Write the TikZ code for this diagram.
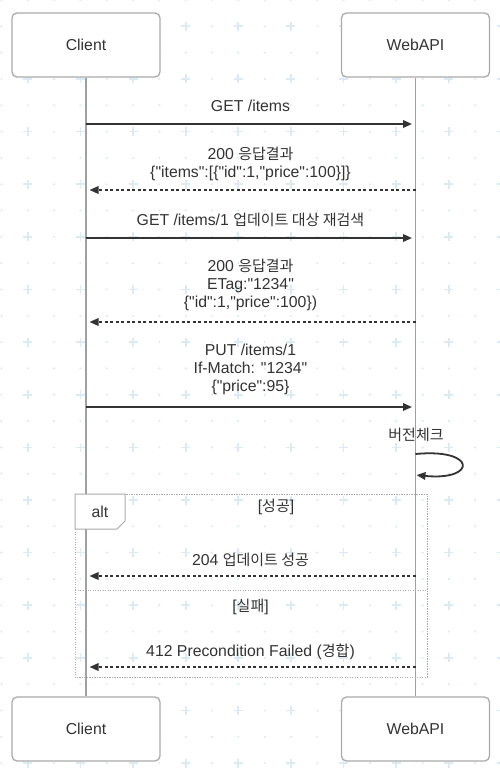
\documentclass[tikz,border=0pt]{standalone}
\usepackage{fontspec}
\setmainfont{Liberation Sans}[Ligatures=TeXOff]
\newfontfamily\kr{Noto Sans CJK KR}[Scale=0.95]
\usetikzlibrary{arrows.meta}
\definecolor{bgdot}{RGB}{218,235,243}
\definecolor{txt}{RGB}{51,51,51}
\definecolor{boxline}{RGB}{170,170,170}
\definecolor{lifeline}{RGB}{160,160,160}
\begin{document}
\begin{tikzpicture}[x=1pt,y=-1pt,
  part/.style={draw=boxline,line width=1.3pt,rounded corners=5pt,fill=white,minimum width=148pt,minimum height=64pt,inner sep=0pt,text=txt,font=\fontsize{15.8}{18}\selectfont},
  lbl/.style={text=txt,font=\fontsize{15.8}{18}\selectfont,align=center,inner sep=0pt},
  msg/.style={draw=txt,line width=1.8pt,-{Triangle[length=9pt,width=7.5pt]},shorten >=3.5pt},
  ret/.style={msg,line width=1.6pt,dash pattern=on 3pt off 2.5pt},
  life/.style={draw=lifeline,line width=1.4pt},
  altline/.style={draw=boxline,line width=1pt,dash pattern=on 1.2pt off 1.3pt},
]
\useasboundingbox (0,0) rectangle (500,772);
\fill[white] (0,0) rectangle (500,772);
\begin{scope}
\clip (0,0) rectangle (500,772);
\foreach \i in {0,...,19}{\foreach \j in {0,...,29}{
  \pgfmathsetmacro\px{1.5+26.316*\i}
  \pgfmathsetmacro\py{26.316*\j}
  \ifodd\i\relax
    \ifodd\j\relax
      \draw[bgdot,line width=1.7pt] (\px-4.5,\py) -- (\px+4.5,\py) (\px,\py-4.5) -- (\px,\py+4.5);
    \else
      \fill[bgdot] (\px,\py) circle (1.2);
    \fi
  \else
    \fill[bgdot] (\px,\py) circle (1.2);
  \fi
}}
\end{scope}

% participants
\node[part] (cT) at (86,45) {Client};
\node[part] (wT) at (415.5,45) {WebAPI};
\node[part] (cB) at (86,729) {Client};
\node[part] (wB) at (415.5,729) {WebAPI};
\draw[life] (cT.south) -- (cB.north);
\draw[life] (wT.south) -- (wB.north);

% lifeline anchor points
\foreach \n/\y in {1/124, 2/190, 3/238, 4/322, 5/407, 8/576, 10/667}{
  \coordinate (c\n) at (86,\y);
  \coordinate (w\n) at (415.5,\y);
}

\node[lbl] (t1) at (250.5,106) {GET /items};
\draw[msg] (c1) -- (w1);

\node[lbl] (t2) at (250.5,164) {200 {\kr 응답결과}\\\{"items":[\{"id":1,"price":100\}]\}};
\draw[ret] (w2) -- (c2);

\node[lbl] (t3) at (250.5,220) {GET /items/1 {\kr 업데이트 대상 재검색}};
\draw[msg] (c3) -- (w3);

\node[lbl] (t4) at (250.5,285) {200 {\kr 응답결과}\\ETag:"1234"\\\{"id":1,"price":100\})};
\draw[ret] (w4) -- (c4);

\node[lbl] (t5) at (250.5,369.5) {PUT /items/1\\If-Match: "1234"\\\{"price":95\}};
\draw[msg] (c5) -- (w5);

% self call
\node[lbl] (t6) at (416,435) {{\kr 버전체크}};
\coordinate (s1) at (415.5,454);
\coordinate (s2) at (415.5,475);
\draw[msg,shorten >=1pt] (s1) .. controls (477,448) and (477,481) .. (s2);

% alt fragment
\draw[altline] (75,494) rectangle (427,677);
\draw[altline] (75,590) -- (427,590);
\draw[draw=boxline,line width=1pt,fill=white] (75,494) -- (125,494) -- (125,521) -- (117,529) -- (75,529) -- cycle;
\node[lbl] (alt) at (100,512) {alt};
\node[lbl] (g1) at (276,507) {[{\kr 성공}]};

\node[lbl] (t8) at (250.5,560) {204 {\kr 업데이트 성공}};
\draw[ret] (w8) -- (c8);

\node[lbl] (g2) at (250.5,607) {[{\kr 실패}]};

\node[lbl] (t10) at (250.5,652) {412 Precondition Failed ({\kr 경합})};
\draw[ret] (w10) -- (c10);
\end{tikzpicture}
\end{document}
